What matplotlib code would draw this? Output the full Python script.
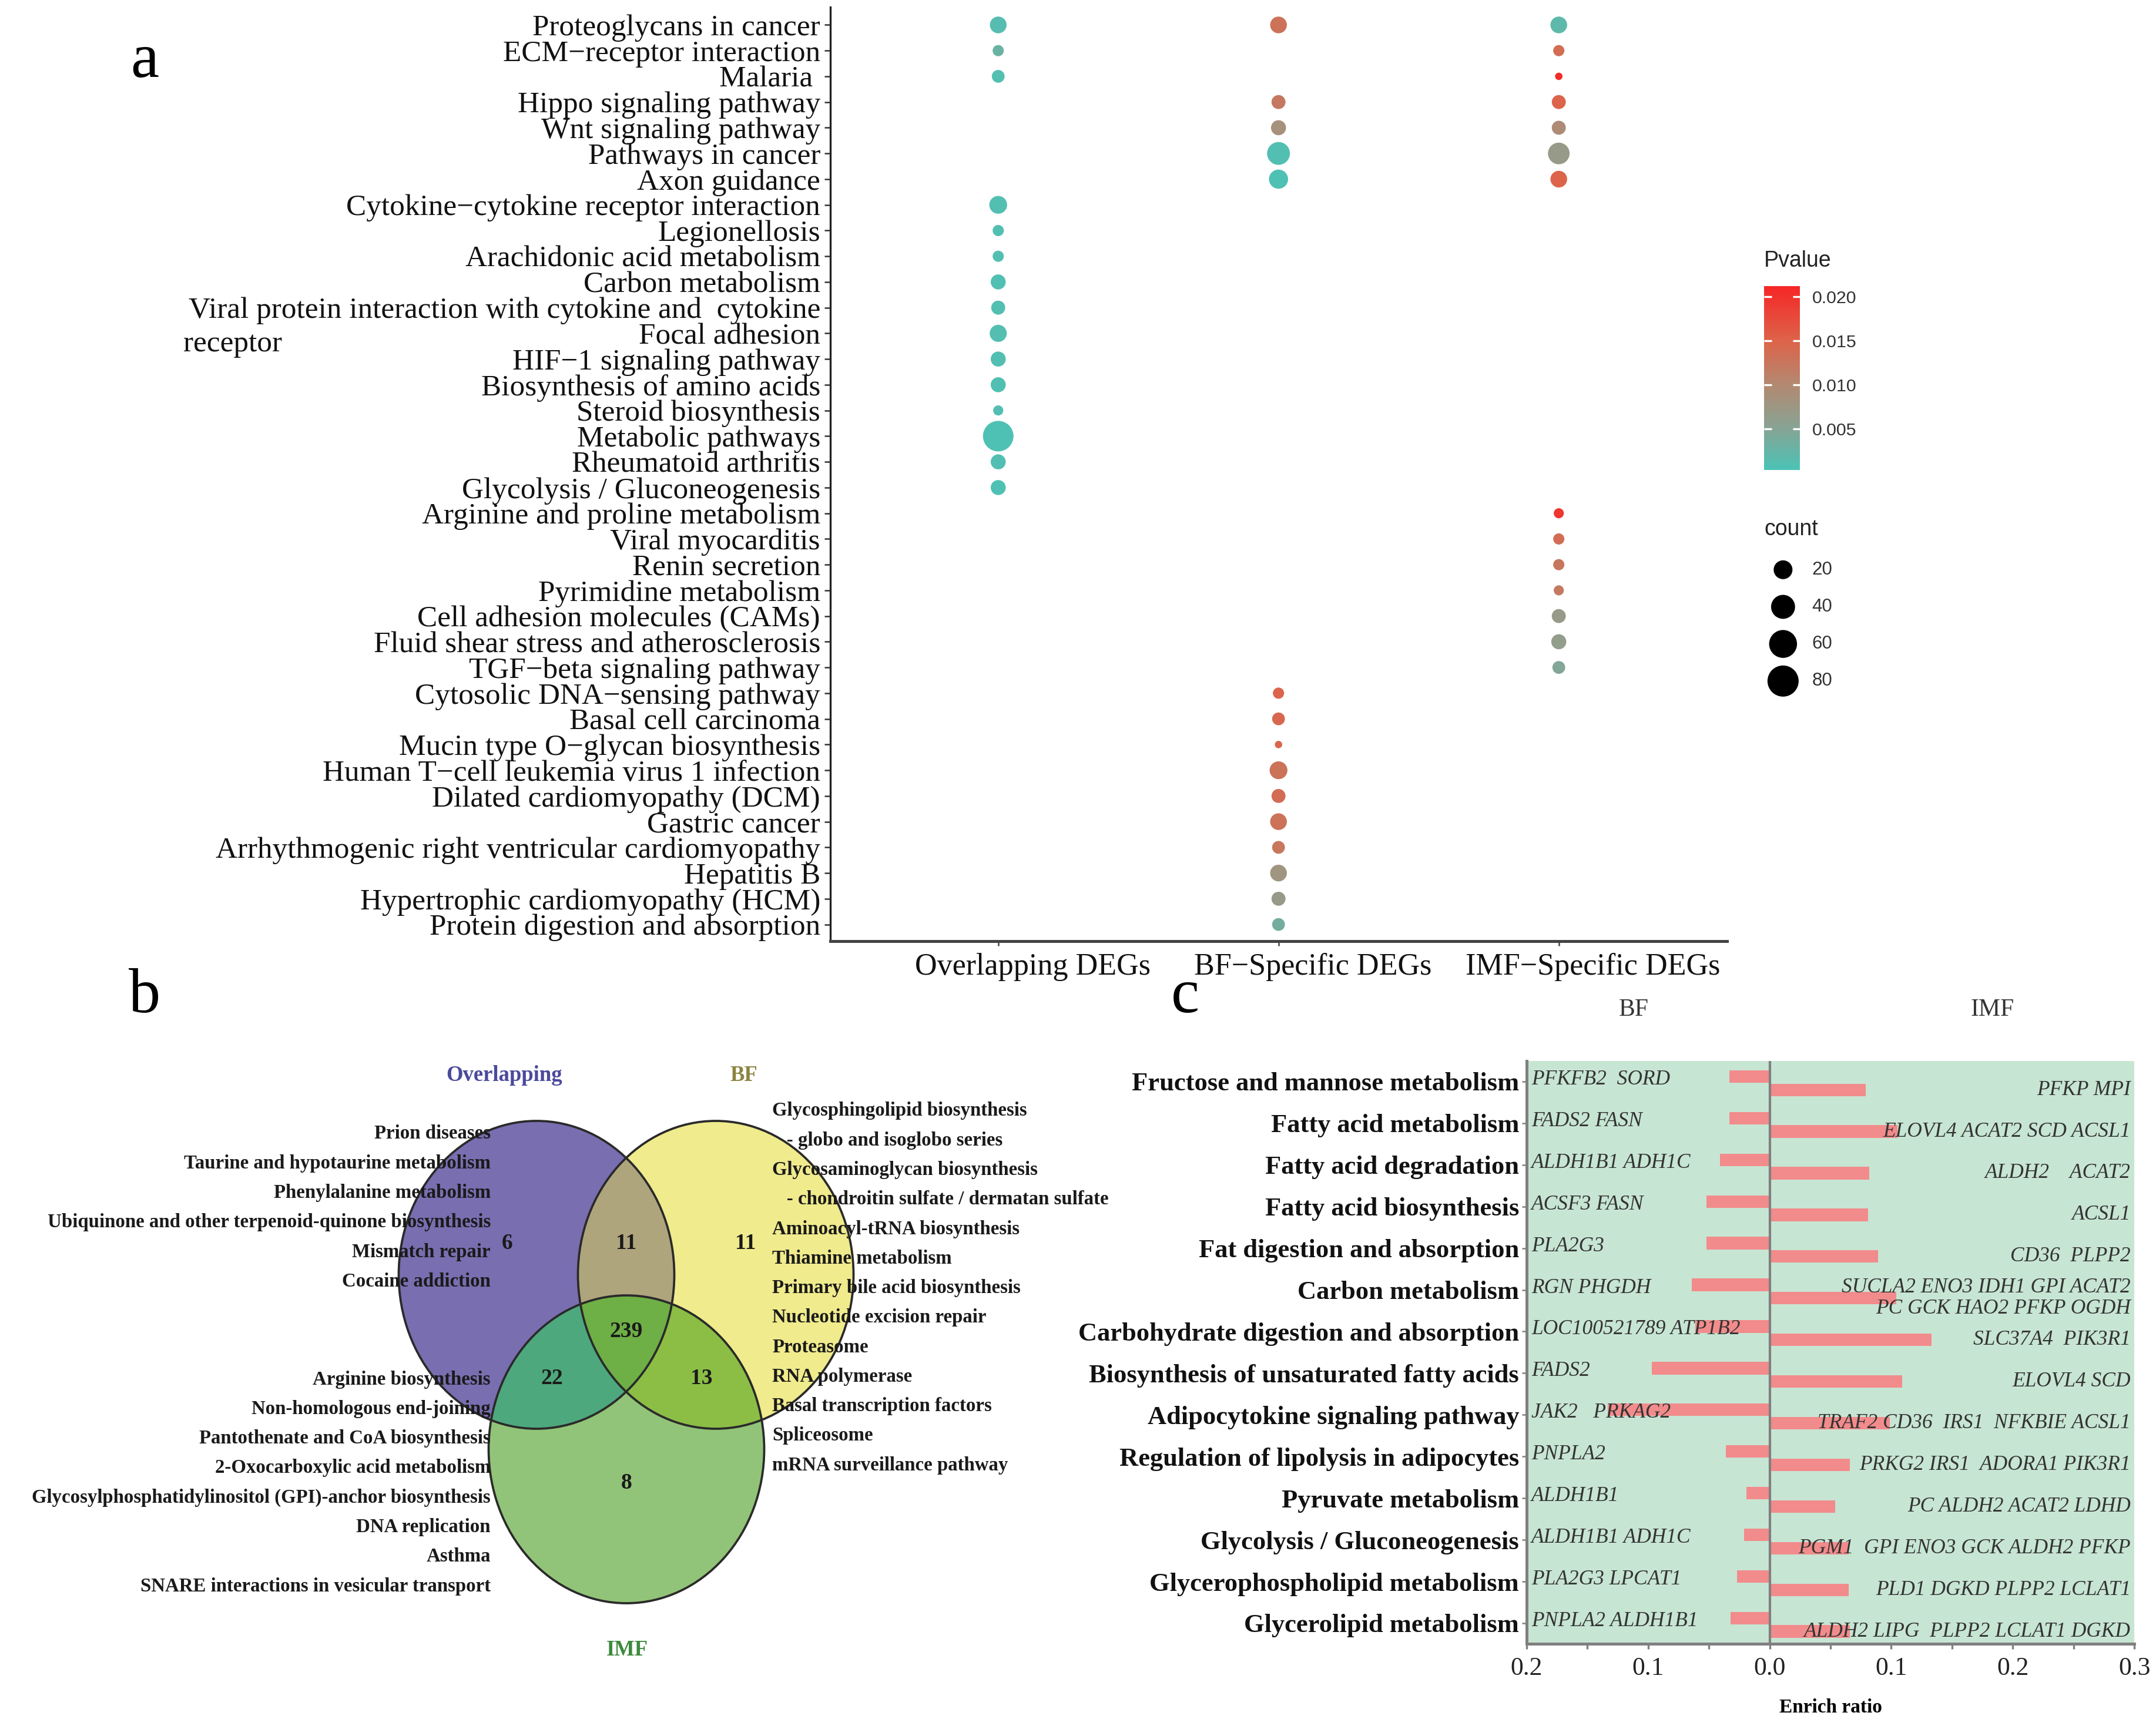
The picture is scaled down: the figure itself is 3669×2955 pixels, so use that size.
import numpy as np
import matplotlib
matplotlib.use("Agg")
import matplotlib.pyplot as plt
from matplotlib.patches import Ellipse
from matplotlib.colors import LinearSegmentedColormap, Normalize, to_rgba
from matplotlib.cm import ScalarMappable
from matplotlib.transforms import ScaledTranslation

SERIF = "Liberation Serif"
SANS = "Liberation Sans"

# ---------------- panel a data ----------------
pathways = ["Proteoglycans in cancer", "ECM\u2212receptor interaction", "Malaria ",
            "Hippo signaling pathway", "Wnt signaling pathway", "Pathways in cancer",
            "Axon guidance", "Cytokine\u2212cytokine receptor interaction", "Legionellosis",
            "Arachidonic acid metabolism", "Carbon metabolism",
            "Viral protein interaction with cytokine and  cytokine",
            "Focal adhesion", "HIF\u22121 signaling pathway", "Biosynthesis of amino acids",
            "Steroid biosynthesis", "Metabolic pathways", "Rheumatoid arthritis",
            "Glycolysis / Gluconeogenesis", "Arginine and proline metabolism",
            "Viral myocarditis", "Renin secretion", "Pyrimidine metabolism",
            "Cell adhesion molecules (CAMs)", "Fluid shear stress and atherosclerosis",
            "TGF\u2212beta signaling pathway", "Cytosolic DNA\u2212sensing pathway",
            "Basal cell carcinoma", "Mucin type O\u2212glycan biosynthesis",
            "Human T\u2212cell leukemia virus 1 infection", "Dilated cardiomyopathy (DCM)",
            "Gastric cancer", "Arrhythmogenic right ventricular cardiomyopathy",
            "Hepatitis B", "Hypertrophic cardiomyopathy (HCM)",
            "Protein digestion and absorption"]
groups = ["Overlapping DEGs", "BF\u2212Specific DEGs", "IMF\u2212Specific DEGs"]

ov_terms = [0, 1, 2, 7, 8, 9, 10, 11, 12, 13, 14, 15, 16, 17, 18]
ov_count = [14, 4, 6, 17, 4, 4, 10, 8, 15, 10, 10, 3, 76, 10, 10]
ov_p = [0.0012, 0.0028, 0.0010, 0.0010, 0.0009, 0.0010, 0.0008, 0.0010, 0.0011,
        0.0009, 0.0008, 0.0009, 0.0006, 0.0009, 0.0007]

bf_terms = [0, 3, 4, 5, 6, 26, 27, 28, 29, 30, 31, 32, 33, 34, 35]
bf_count = [14, 8, 10, 35, 21, 4, 6, 2, 17, 8, 14, 6, 14, 8, 6]
bf_p = [0.0130, 0.0122, 0.0085, 0.0009, 0.0007, 0.0149, 0.0143, 0.0145, 0.0130,
        0.0137, 0.0130, 0.0124, 0.0078, 0.0068, 0.0036]

imf_terms = [0, 1, 2, 3, 4, 5, 6, 19, 20, 21, 22, 23, 24, 25]
imf_count = [14, 4, 2, 8, 8, 30, 14, 3, 4, 4, 3, 8, 10, 6]
imf_p = [0.0018, 0.0137, 0.0206, 0.0149, 0.0095, 0.0068, 0.0149, 0.0195, 0.0137,
         0.0124, 0.0120, 0.0068, 0.0062, 0.0047]

legend_counts = [20, 40, 60, 80]
p_ticks = [0.005, 0.010, 0.015, 0.020]

# ---------------- panel b data ----------------
venn_counts = {"O": 6, "OB": 11, "B": 11, "OBI": 239, "OI": 22, "BI": 13, "I": 8}
ov_only_paths = ["Prion diseases", "Taurine and hypotaurine metabolism",
                 "Phenylalanine metabolism",
                 "Ubiquinone and other terpenoid-quinone biosynthesis",
                 "Mismatch repair", "Cocaine addiction"]
ov_imf_paths = ["Arginine biosynthesis", "Non-homologous end-joining",
                "Pantothenate and CoA biosynthesis", "2-Oxocarboxylic acid metabolism",
                "Glycosylphosphatidylinositol (GPI)-anchor biosynthesis",
                "DNA replication", "Asthma", "SNARE interactions in vesicular transport"]
bf_paths = ["Glycosphingolipid biosynthesis", "   - globo and isoglobo series",
            "Glycosaminoglycan biosynthesis",
            "   - chondroitin sulfate / dermatan sulfate",
            "Aminoacyl-tRNA biosynthesis", "Thiamine metabolism",
            "Primary bile acid biosynthesis", "Nucleotide excision repair",
            "Proteasome", "RNA polymerase", "Basal transcription factors",
            "Spliceosome", "mRNA surveillance pathway"]

# ---------------- panel c data ----------------
c_terms = ["Fructose and mannose metabolism", "Fatty acid metabolism",
           "Fatty acid degradation", "Fatty acid biosynthesis",
           "Fat digestion and absorption", "Carbon metabolism",
           "Carbohydrate digestion and absorption",
           "Biosynthesis of unsaturated fatty acids", "Adipocytokine signaling pathway",
           "Regulation of lipolysis in adipocytes", "Pyruvate metabolism",
           "Glycolysis / Gluconeogenesis", "Glycerophospholipid metabolism",
           "Glycerolipid metabolism"]
bf_ratio = [0.033, 0.033, 0.041, 0.052, 0.052, 0.064, 0.061, 0.097, 0.133,
            0.036, 0.019, 0.021, 0.027, 0.032]
imf_ratio = [0.079, 0.105, 0.082, 0.081, 0.089, 0.104, 0.133, 0.109, 0.099,
             0.066, 0.054, 0.065, 0.065, 0.066]
bf_genes = ["PFKFB2  SORD", "FADS2 FASN", "ALDH1B1 ADH1C", "ACSF3 FASN", "PLA2G3",
            "RGN PHGDH", "LOC100521789 ATP1B2", "FADS2", "JAK2   PRKAG2", "PNPLA2",
            "ALDH1B1", "ALDH1B1 ADH1C", "PLA2G3 LPCAT1", "PNPLA2 ALDH1B1"]
imf_genes = ["PFKP MPI", "ELOVL4 ACAT2 SCD ACSL1", "ALDH2    ACAT2", "ACSL1",
             "CD36  PLPP2", "SUCLA2 ENO3 IDH1 GPI ACAT2\nPC GCK HAO2 PFKP OGDH",
             "SLC37A4  PIK3R1", "ELOVL4 SCD", "TRAF2 CD36  IRS1  NFKBIE ACSL1",
             "PRKG2 IRS1  ADORA1 PIK3R1", "PC ALDH2 ACAT2 LDHD",
             "PGM1  GPI ENO3 GCK ALDH2 PFKP", "PLD1 DGKD PLPP2 LCLAT1",
             "ALDH2 LIPG  PLPP2 LCLAT1 DGKD"]
c_ticks = [-0.2, -0.1, 0.0, 0.1, 0.2, 0.3]

DPI = 300
fig = plt.figure(figsize=(12.23, 9.85), dpi=DPI)

# overlay in pixel coords for panel b and panel letters
ov = fig.add_axes([0, 0, 1, 1], zorder=0)
ov.set_xlim(0, 3669)
ov.set_ylim(2955, 0)
ov.axis("off")

for lab, (x, y) in zip("abc", [(246, 105), (246, 1697), (2017, 1697)]):
    ov.text(x, y, lab, fontsize=26, family=SERIF, ha="center", va="center")

# ---------------- panel a ----------------
cmap = LinearSegmentedColormap.from_list(
    "pv", [(0.0, "#4BC3B6"), (0.24, "#8AA292"), (0.47, "#B48870"),
           (0.71, "#DE6248"), (1.0, "#F52626")])
norm = Normalize(vmin=0.0003, vmax=0.0212)


def dot_size(c):
    c = np.maximum(np.asarray(c, dtype=float), 2)
    d_px = 12.6 + 41.7 * np.sqrt((c - 2) / 83)
    return (d_px * 72 / DPI) ** 2


ax = fig.add_axes([0.385, 0.458, 0.416, 0.538], zorder=2)
ax.patch.set_alpha(0)
for gi, (terms, cnt, pv) in enumerate([(ov_terms, ov_count, ov_p),
                                        (bf_terms, bf_count, bf_p),
                                        (imf_terms, imf_count, imf_p)]):
    ax.scatter(np.full(len(terms), gi), terms, s=dot_size(cnt), c=pv,
               cmap=cmap, norm=norm, linewidths=0, zorder=3)
ax.set_xlim(-0.6, 2.6)
ax.set_ylim(len(pathways) - 1 + 0.64, -0.7)
ax.set_yticks(range(len(pathways)))
ax.set_yticklabels(pathways, family=SERIF, fontsize=12.3, color="#111111")
ax.set_xticks(range(len(groups)))
ax.set_xticklabels(groups, family=SERIF, fontsize=12.5, color="#111111")
ax.tick_params(axis="y", length=2.5, width=0.6, pad=1.5, color="#333333")
ax.tick_params(axis="x", length=2, width=0.6, pad=3, color="#444444")
shift = ScaledTranslation(0.195, 0, fig.dpi_scale_trans)
for t in ax.get_xticklabels():
    t.set_transform(t.get_transform() + shift)
for s in ["top", "right"]:
    ax.spines[s].set_visible(False)
ax.spines["left"].set_color("#222222")
ax.spines["left"].set_linewidth(0.8)
ax.spines["bottom"].set_color("#444444")
ax.spines["bottom"].set_linewidth(1.2)
viral_idx = pathways.index("Viral protein interaction with cytokine and  cytokine")
ax.text(-0.721, viral_idx + 1.42, "receptor", transform=ax.get_yaxis_transform(),
        family=SERIF, fontsize=12.3, ha="left", va="center", color="#111111")

# Pvalue colourbar
cax = fig.add_axes([0.8182, 0.7292, 0.0166, 0.1061], zorder=2)
cb = fig.colorbar(ScalarMappable(norm=norm, cmap=cmap), cax=cax)
cb.outline.set_visible(False)
cb.set_ticks(p_ticks)
cb.set_ticklabels(["%.3f" % t for t in p_ticks])
cax.tick_params(axis="y", direction="in", color="white", length=3, width=0.8,
                left=True, right=True, labelsize=7.3, pad=5, labelcolor="#333333")
for t in cax.get_yticklabels():
    t.set_family(SANS)
fig.text(0.8182, 0.8496, "Pvalue", family=SANS, fontsize=9, va="center", ha="left",
         color="#222222")

# count legend
lax = fig.add_axes([0.8163, 0.597, 0.0383, 0.0855], zorder=2)
lax.set_xlim(0, 1)
lax.set_ylim(len(legend_counts) - 0.5, -0.5)
lax.axis("off")
lax.scatter(np.full(len(legend_counts), 0.28), range(len(legend_counts)),
            s=dot_size(legend_counts), c="black", linewidths=0)
for i, c in enumerate(legend_counts):
    lax.text(0.63, i, str(c), family=SANS, fontsize=7.5, va="center", color="#333333")
fig.text(0.8182, 0.6952, "count", family=SANS, fontsize=9, va="center", ha="left",
         color="#222222")

# ---------------- panel b (Venn) ----------------
circles = {"O": (913, 2170), "B": (1218, 2170), "I": (1066, 2467)}
rx, ry = 234.5, 262
region_colors = {1: "#796EB0", 2: "#F0EB8C", 4: "#91C478", 3: "#AFA57D",
                 5: "#4EA87D", 6: "#8CBE46", 7: "#6EAF46"}
x0, x1, y0, y1 = 660, 1470, 1890, 2750
xx, yy = np.meshgrid(np.arange(x0, x1) + 0.5, np.arange(y0, y1) + 0.5)
code = np.zeros(xx.shape, dtype=int)
for bit, key in zip([1, 2, 4], ["O", "B", "I"]):
    cx, cy = circles[key]
    inside = ((xx - cx) / rx) ** 2 + ((yy - cy) / ry) ** 2 <= 1
    code += bit * inside
img = np.zeros(xx.shape + (4,))
for k, col in region_colors.items():
    img[code == k] = to_rgba(col)
ov.imshow(img, extent=(x0, x1, y1, y0), origin="upper", interpolation="bilinear",
          zorder=1)
for key in ["O", "B", "I"]:
    ov.add_patch(Ellipse(circles[key], 2 * rx, 2 * ry, fill=False,
                         edgecolor="#2a2a2a", lw=0.9, zorder=2))

count_pos = {"O": (863, 2117), "OB": (1066, 2117), "B": (1269, 2117),
             "OBI": (1066, 2266), "OI": (939, 2347), "BI": (1194, 2347),
             "I": (1066, 2524)}
for key, n in venn_counts.items():
    ov.text(*count_pos[key], str(n), family=SERIF, fontsize=9, weight="bold",
            ha="center", va="center", zorder=4, color="#1a1a1a")

ov.text(858, 1830, "Overlapping", family=SERIF, fontsize=8.8, weight="bold",
        color="#4A4A9C", ha="center", va="center")
ov.text(1266, 1830, "BF", family=SERIF, fontsize=8.8, weight="bold",
        color="#8C8440", ha="center", va="center")
ov.text(1067, 2808, "IMF", family=SERIF, fontsize=8.8, weight="bold",
        color="#3C8A3C", ha="center", va="center")

line_h = 50.3
for i, name in enumerate(ov_only_paths):
    ov.text(835, 1930 + i * line_h, name, family=SERIF, fontsize=7.9, weight="bold",
            ha="right", va="center", zorder=3, color="#1a1a1a")
for i, name in enumerate(ov_imf_paths):
    ov.text(835, 2348 + i * line_h, name, family=SERIF, fontsize=7.9, weight="bold",
            ha="right", va="center", zorder=3, color="#1a1a1a")
for i, name in enumerate(bf_paths):
    ov.text(1314, 1891 + i * 50.25, name, family=SERIF, fontsize=7.9, weight="bold",
            ha="left", va="center", zorder=3, color="#1a1a1a")

# ---------------- panel c ----------------
cx_ = fig.add_axes([0.708, 0.053, 0.282, 0.336], zorder=2)
cx_.set_facecolor("#C7E5D3")
yc = np.arange(len(c_terms))
cx_.barh(yc - 0.12, [-v for v in bf_ratio], height=0.3, color="#F28B8B", zorder=2)
cx_.barh(yc + 0.2, imf_ratio, height=0.3, color="#F28B8B", zorder=2)
cx_.axvline(0, color="#808080", lw=1.0, zorder=3)
for i in range(len(c_terms)):
    cx_.text(-0.196, i - 0.05, bf_genes[i], family=SERIF, style="italic",
             fontsize=8.5, color="#333333", ha="left", va="center", zorder=4)
    cx_.text(0.297, i + 0.2, imf_genes[i], family=SERIF, style="italic",
             fontsize=8.5, color="#333333", ha="right", va="center", zorder=4,
             linespacing=1.1)
cx_.set_xlim(-0.2, 0.3)
cx_.set_ylim(len(c_terms) - 0.5, -0.5)
cx_.set_yticks(yc)
cx_.set_yticklabels(c_terms, family=SERIF, weight="bold", fontsize=10.7,
                    color="#111111")
cx_.set_xticks(c_ticks)
cx_.set_xticks(np.arange(-0.15, 0.3, 0.1), minor=True)
cx_.set_xticklabels(["%.1f" % abs(t) for t in c_ticks], family=SERIF, fontsize=10.5,
                    color="#222222")
cx_.tick_params(axis="y", length=2, width=0.6, color="#808080", pad=1)
cx_.tick_params(axis="x", which="both", length=2.2, width=0.8, color="#808080", pad=3)
for s in ["top", "right"]:
    cx_.spines[s].set_visible(False)
for s in ["left", "bottom"]:
    cx_.spines[s].set_color("#808080")
    cx_.spines[s].set_linewidth(1.2)
cx_.set_xlabel("Enrich ratio", family=SERIF, weight="bold", fontsize=8, labelpad=7.5)
tr = cx_.get_xaxis_transform()
cx_.text(-0.112, 1.087, "BF", transform=tr, family=SERIF, fontsize=10,
         ha="center", va="center", color="#333333")
cx_.text(0.183, 1.087, "IMF", transform=tr, family=SERIF, fontsize=10,
         ha="center", va="center", color="#333333")

fig.savefig("out.png", dpi=DPI, facecolor="white")
